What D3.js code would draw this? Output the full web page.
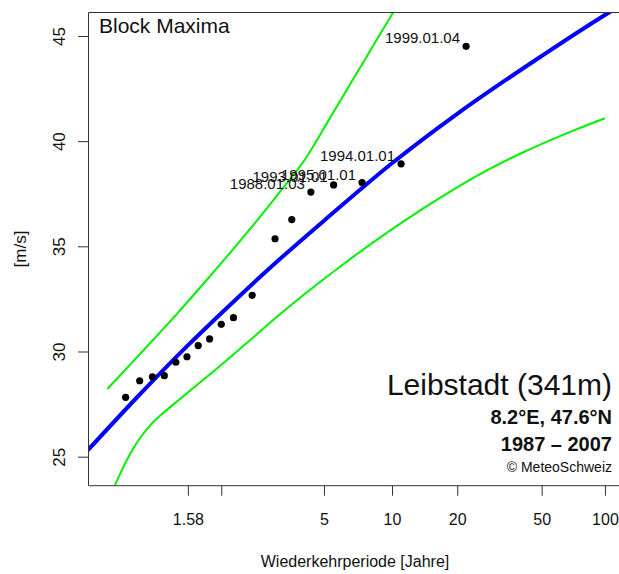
<!DOCTYPE html>
<html>
<head>
<meta charset="utf-8">
<script src="https://cdn.jsdelivr.net/npm/d3@7"></script>
<style>
  html, body { margin: 0; padding: 0; background: #fff; }
  svg { display: block; }
  text { font-family: "Liberation Sans", Arial, Helvetica, sans-serif; fill: #111; }
</style>
</head>
<body>
<svg id="chart" width="619" height="574"></svg>
<script>
// ---- data (return period in years, wind speed in m/s) ----
const pointT = [1.158, 1.222, 1.294, 1.375, 1.467, 1.571, 1.692, 1.833, 2.0, 2.2, 2.57, 3.143, 3.667, 4.4, 5.5, 7.333, 11, 22];
const pointV = [27.82, 28.61, 28.80, 28.85, 29.49, 29.75, 30.28, 30.60, 31.29, 31.61, 32.67, 35.36, 36.27, 37.58, 37.92, 38.03, 38.92, 44.51];
const pointLabels = ["", "", "", "", "", "", "", "", "", "", "", "", "", "1988.01.03", "1993.01.01", "1995.01.01", "1994.01.01", "1999.01.04"];

const fitT = [1.05, 1.2, 1.58, 2, 3, 5, 10, 20, 50, 100, 120];
const fitV = [25.27, 27.73, 30.29, 31.82, 33.97, 36.22, 38.95, 41.3, 44.05, 46.0, 46.48];

const upperT = [1.096, 1.162, 1.241, 1.446, 1.796, 2.320, 2.750, 3.290, 4.225, 5.239, 6.396, 7.534, 8.886, 10.18];
const upperV = [28.22, 29.20, 30.05, 31.60, 33.40, 35.25, 36.40, 37.60, 39.25, 41.00, 42.59, 43.86, 45.13, 46.16];

const lowerT = [1.119, 1.137, 1.156, 1.177, 1.224, 1.279, 1.380, 1.504, 1.713, 1.884, 2.453, 3.389, 4.808, 6.061, 13.43, 16.63, 23.77, 39.54, 70.6, 100];
const lowerV = [23.65, 24.18, 24.68, 25.13, 25.89, 26.48, 27.15, 27.74, 28.53, 29.05, 30.40, 31.90, 33.30, 34.15, 36.70, 37.30, 38.25, 39.40, 40.50, 41.09];

const xTickT = [1.58, 2, 5, 10, 20, 50, 100];
const xTickLabels = ["1.58", "", "5", "10", "20", "50", "100"];
const yTicks = [25, 30, 35, 40, 45];

// ---- layout ----
const W = 619, H = 574;
const plot = { left: 88, top: 12, right: 619, bottom: 485.7 };
const xDomainT = [1.0515, 116.7];
const yDomain = [23.62, 46.14];

// Gumbel reduced variate of a return period
const gumbel = T => -Math.log(-Math.log(1 - 1 / T));

const xu = d3.scaleLinear().domain(xDomainT.map(gumbel)).range([plot.left, plot.right]);
const x = T => xu(gumbel(T));
const y = d3.scaleLinear().domain(yDomain).range([plot.bottom, plot.top]);

const svg = d3.select("#chart");
svg.append("rect").attr("width", W).attr("height", H).attr("fill", "#fff");

svg.append("defs").append("clipPath").attr("id", "clip")
  .append("rect").attr("x", plot.left).attr("y", plot.top)
  .attr("width", plot.right - plot.left + 20).attr("height", plot.bottom - plot.top);

const g = svg.append("g").attr("clip-path", "url(#clip)");

const line = d3.line().x(d => x(d[0])).y(d => y(d[1])).curve(d3.curveMonotoneX);

g.append("path").datum(upperT.map((t, i) => [t, upperV[i]]))
  .attr("d", line).attr("fill", "none").attr("stroke", "#00f000").attr("stroke-width", 2);
g.append("path").datum(lowerT.map((t, i) => [t, lowerV[i]]))
  .attr("d", line).attr("fill", "none").attr("stroke", "#00f000").attr("stroke-width", 2);
g.append("path").datum(fitT.map((t, i) => [t, fitV[i]]))
  .attr("d", line).attr("fill", "none").attr("stroke", "#0000ff").attr("stroke-width", 4);

const pts = pointT.map((t, i) => ({ t, v: pointV[i], label: pointLabels[i] }));
g.selectAll("circle.pt").data(pts).join("circle")
  .attr("class", "pt")
  .attr("cx", d => x(d.t)).attr("cy", d => y(d.v)).attr("r", 3.6).attr("fill", "#000");

g.selectAll("text.lbl").data(pts.filter(d => d.label)).join("text")
  .attr("class", "lbl")
  .attr("x", d => x(d.t) - 6).attr("y", d => y(d.v) - 3)
  .attr("text-anchor", "end").attr("font-size", 15).attr("fill", "#222")
  .text(d => d.label);

// frame (top, left, bottom)
svg.append("path")
  .attr("d", `M${W + 5},${plot.top + 0.5}H${plot.left + 0.5}V${plot.bottom}H${W + 5}`)
  .attr("fill", "none").attr("stroke", "#333").attr("stroke-width", 1);

// x axis
const xAxis = svg.append("g").attr("transform", `translate(0,${plot.bottom})`)
  .call(d3.axisBottom(xu).tickValues(xTickT.map(gumbel)).tickSize(10).tickSizeOuter(0)
    .tickFormat((d, i) => xTickLabels[i]));
xAxis.select(".domain").remove();
xAxis.selectAll(".tick line").attr("stroke", "#333");
xAxis.selectAll(".tick text").attr("y", 39).attr("dy", 0).attr("font-size", 16)
  .attr("fill", "#111").style("font-family", '"Liberation Sans", Arial, sans-serif');

// y axis
const yAxis = svg.append("g").attr("transform", `translate(${plot.left},0)`)
  .call(d3.axisLeft(y).tickValues(yTicks).tickSize(10).tickSizeOuter(0));
yAxis.select(".domain").remove();
yAxis.selectAll(".tick line").attr("stroke", "#333");
yAxis.selectAll(".tick text").attr("x", 0).attr("dy", 0)
  .attr("transform", "translate(-23,0) rotate(-90)")
  .attr("text-anchor", "middle").attr("font-size", 17)
  .attr("fill", "#111").style("font-family", '"Liberation Sans", Arial, sans-serif');

// axis titles
svg.append("text").attr("x", 355).attr("y", 567).attr("text-anchor", "middle")
  .attr("font-size", 16).text("Wiederkehrperiode [Jahre]");
svg.append("text").attr("transform", "translate(26,249) rotate(-90)").attr("text-anchor", "middle")
  .attr("font-size", 17).text("[m/s]");

// annotations
svg.append("text").attr("x", 99).attr("y", 33).attr("font-size", 21).text("Block Maxima");
svg.append("text").attr("x", 612).attr("y", 395).attr("text-anchor", "end")
  .attr("font-size", 30).text("Leibstadt (341m)");
svg.append("text").attr("x", 612).attr("y", 424).attr("text-anchor", "end")
  .attr("font-size", 20).attr("font-weight", "bold").text("8.2°E, 47.6°N");
svg.append("text").attr("x", 612).attr("y", 451).attr("text-anchor", "end")
  .attr("font-size", 20).attr("font-weight", "bold").text("1987 – 2007");
svg.append("text").attr("x", 612).attr("y", 472).attr("text-anchor", "end")
  .attr("font-size", 14).text("© MeteoSchweiz");
</script>
</body>
</html>
